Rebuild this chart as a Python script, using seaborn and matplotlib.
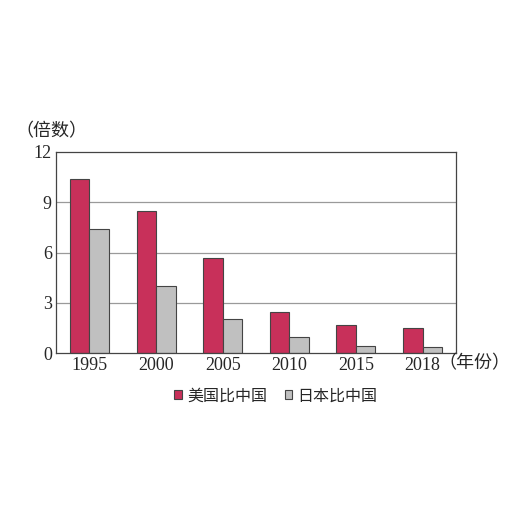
import pandas as pd
import matplotlib.pyplot as plt
import seaborn as sns
from matplotlib.ticker import FixedLocator

# Data
years = ['1995', '2000', '2005', '2010', '2015', '2018']
usa_vs_china = [10.4, 8.45, 5.7, 2.47, 1.65, 1.52]
japan_vs_china = [7.4, 4.0, 2.05, 0.95, 0.42, 0.37]
series_names = ['美国比中国', '日本比中国']

df = pd.DataFrame({
    'year': years * 2,
    'value': usa_vs_china + japan_vs_china,
    'series': [series_names[0]] * len(years) + [series_names[1]] * len(years),
})

sns.set_style('white')
plt.rcParams['font.family'] = ['Liberation Serif', 'Noto Sans CJK SC', 'DejaVu Sans']

fig = plt.figure(figsize=(5.2, 5.2), dpi=100)
ax = fig.add_axes([56 / 520, 167 / 520, 400 / 520, 201 / 520])

sns.barplot(
    data=df, x='year', y='value', hue='series',
    palette=['#C8305A', '#C0C0C0'], saturation=1,
    width=0.585, edgecolor='#444444', linewidth=0.8,
    dodge=True, ax=ax,
)

ax.set_ylim(0, 12)
ax.set_xlim(-0.5, len(years) - 0.5)
ax.set_yticks([0, 3, 6, 9, 12])
ax.set_yticklabels(['0', '3', '6', '9', '12'], fontsize=13)
ax.set_xticklabels(years, fontsize=13)
ax.set_xlabel('')
ax.set_ylabel('')

for y in [3, 6, 9]:
    ax.axhline(y, color='#9a9a9a', linewidth=0.9, zorder=0)

ax.tick_params(axis='both', which='major', length=0, pad=3)
ax.xaxis.set_minor_locator(FixedLocator([i + 0.5 for i in range(len(years) - 1)]))
ax.tick_params(axis='x', which='minor', direction='in', length=3, color='#444444')

for side in ax.spines.values():
    side.set_color('#444444')
    side.set_linewidth(0.9)

fig.text(15 / 520, 1 - 131 / 520, '（倍数）', fontsize=13, family=['Noto Sans CJK SC'],
         va='center', ha='left')
fig.text(438 / 520, 1 - 363 / 520, '（年份）', fontsize=13, family=['Noto Sans CJK SC'],
         va='center', ha='left')

handles, labels = ax.get_legend_handles_labels()
ax.legend(handles, labels, loc='upper center', bbox_to_anchor=(0.55, -0.1),
          ncol=2, frameon=False, prop={'family': 'Noto Sans CJK SC', 'size': 11.5},
          handlelength=0.45, handleheight=0.45, handletextpad=0.35, columnspacing=1.1)

fig.savefig('out.png', dpi=100)
